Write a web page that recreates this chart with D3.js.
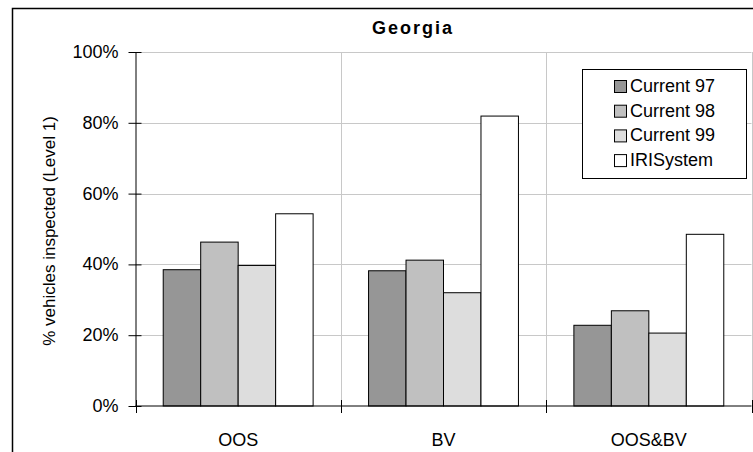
<!DOCTYPE html>
<html><head><meta charset="utf-8">
<script src="https://cdn.jsdelivr.net/npm/d3@7"></script>
<style>body{margin:0;background:#fff}svg{display:block;font-family:"Liberation Sans",Arial,sans-serif}</style>
</head><body><svg id="c" width="753" height="452"></svg>
<script>
const categories = ["OOS", "BV", "OOS&BV"];
const seriesNames = ["Current 97", "Current 98", "Current 99", "IRISystem"];
const current97 = [38.5, 38.2, 22.8];
const current98 = [46.3, 41.2, 26.9];
const current99 = [39.7, 32.0, 20.6];
const iriSystem = [54.3, 81.9, 48.5];
const yTicks = [0, 20, 40, 60, 80, 100];
const colors = ["#969696", "#c0c0c0", "#dddddd", "#ffffff"];
const series = [current97, current98, current99, iriSystem];
const FONT = "'Liberation Sans', Arial, sans-serif";

const svg = d3.select("#c");
const L = 135.5, R = 751.5, T = 52, B = 406;

// outer border
svg.append("rect").attr("x", 12.5).attr("y", 8.5).attr("width", 800).attr("height", 500)
  .attr("fill", "none").attr("stroke", "#000").attr("stroke-width", 1.5);

const x0 = d3.scaleBand().domain(categories).range([L, R]).paddingInner(0).paddingOuter(0);
const bw = x0.bandwidth();
const x1 = d3.scaleBand().domain(seriesNames).range([bw * 0.135, bw * 0.865]).padding(0);
const y = d3.scaleLinear().domain([0, 100]).range([B, T]);

// horizontal gridlines
svg.append("g").selectAll("line").data(yTicks.filter(d => d > 0)).join("line")
  .attr("x1", L).attr("x2", R).attr("y1", d => Math.round(y(d)) + 0.5).attr("y2", d => Math.round(y(d)) + 0.5)
  .attr("stroke", "#c8c8c8").attr("stroke-width", 1);
// vertical gridlines at category boundaries
svg.append("g").selectAll("line").data(categories).join("line")
  .attr("x1", d => Math.round(x0(d) + bw) + 0.5).attr("x2", d => Math.round(x0(d) + bw) + 0.5)
  .attr("y1", T).attr("y2", B).attr("stroke", "#c8c8c8").attr("stroke-width", 1);

// bars
const g = svg.append("g");
categories.forEach((c, ci) => {
  series.forEach((s, si) => {
    g.append("rect")
      .attr("x", x0(c) + x1(seriesNames[si]))
      .attr("y", y(s[ci]))
      .attr("width", x1.bandwidth())
      .attr("height", B - y(s[ci]))
      .attr("fill", colors[si]).attr("stroke", "#000").attr("stroke-width", 1);
  });
});

// y axis
const yAxis = d3.axisLeft(y).tickValues(yTicks).tickFormat(d => d + "%").tickSizeInner(7).tickSizeOuter(0);
const ya = svg.append("g").attr("transform", `translate(${L},0)`).call(yAxis);
ya.attr("font-family", FONT);
ya.select(".domain").attr("stroke", "#000");
ya.selectAll(".tick line").attr("x1", -7).attr("x2", 6).attr("stroke", "#000");
ya.selectAll(".tick text").attr("x", -17).attr("dy", "0.3em").attr("font-size", 18).attr("fill", "#000");

// x axis
const xa = svg.append("g").attr("transform", `translate(0,${B})`);
xa.append("line").attr("x1", L).attr("x2", R).attr("stroke", "#000");
const bounds = [L].concat(categories.map(c => x0(c) + bw));
xa.selectAll(".xt").data(bounds).join("line").attr("class", "xt")
  .attr("x1", d => Math.round(d) + 0.5).attr("x2", d => Math.round(d) + 0.5).attr("y1", -6).attr("y2", 7).attr("stroke", "#000");
xa.selectAll(".xl").data(categories).join("text").attr("class", "xl")
  .attr("x", d => x0(d) + bw / 2).attr("y", 40)
  .attr("text-anchor", "middle").attr("font-size", 18).text(d => d);

// title
svg.append("text").attr("x", 413).attr("y", 34).attr("text-anchor", "middle")
  .attr("font-size", 18).attr("font-weight", "bold").attr("letter-spacing", 2).text("Georgia");

// y label
svg.append("text").attr("transform", "translate(55,231) rotate(-90)").attr("text-anchor", "middle")
  .attr("font-size", 17).text("% vehicles inspected (Level 1)");

// legend
const lg = svg.append("g");
lg.append("rect").attr("x", 582.5).attr("y", 69.5).attr("width", 164).attr("height", 109)
  .attr("fill", "#fff").attr("stroke", "#000").attr("stroke-width", 1);
seriesNames.forEach((n, i) => {
  const base = 92 + i * 24.7;
  lg.append("rect").attr("x", 614.5).attr("y", base - 11.5).attr("width", 12).attr("height", 12)
    .attr("fill", colors[i]).attr("stroke", "#000").attr("stroke-width", 1);
  lg.append("text").attr("x", 630).attr("y", base).attr("font-size", 18).text(n);
});
</script></body></html>
